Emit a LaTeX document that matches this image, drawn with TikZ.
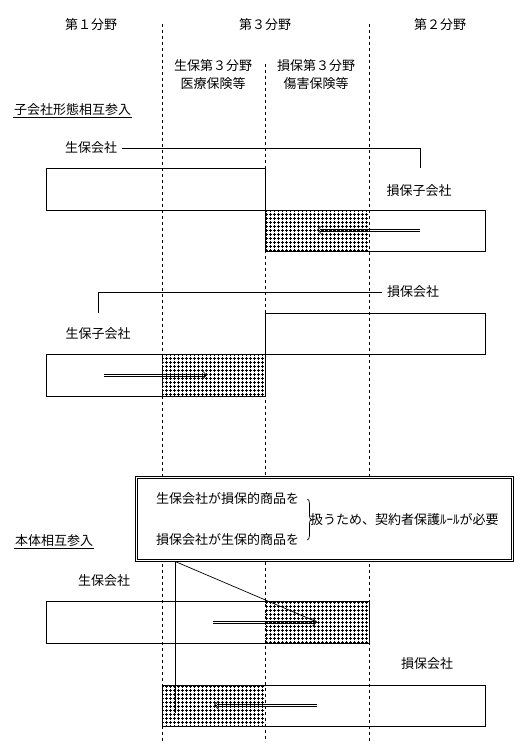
\documentclass[tikz,border=0pt]{standalone}
\usepackage{fontspec}
\usetikzlibrary{positioning, arrows.meta, decorations.pathreplacing, patterns, calc}
\newfontfamily\jpfont{Noto Sans CJK JP}
\pgfdeclarepatternformonly{plusgrid}{\pgfpoint{-0.5pt}{-0.5pt}}{\pgfpoint{4.5pt}{4.5pt}}{\pgfpoint{4pt}{4pt}}{%
  \pgfsetlinewidth{1pt}
  \pgfpathmoveto{\pgfpoint{0.5pt}{2pt}}\pgfpathlineto{\pgfpoint{3.5pt}{2pt}}
  \pgfpathmoveto{\pgfpoint{2pt}{0.5pt}}\pgfpathlineto{\pgfpoint{2pt}{3.5pt}}
  \pgfusepath{stroke}}
\tikzset{
  lbl/.style={font=\jpfont\fontsize{13}{15}\selectfont, inner sep=1pt},
  field/.style={draw, line width=0.9pt},
  guide/.style={line width=0.7pt, dash pattern=on 3pt off 3pt},
  link/.style={line width=0.7pt},
  hatch/.style={pattern=plusgrid},
  frame/.style={draw, line width=0.8pt, fill=white, minimum width=378pt, minimum height=85pt},
}
% double shaft with open head
\newcommand{\dblarrow}[2]{%
  \draw[link] ($(#1)+(0,1)$) -- ($(#2)!2.5pt!(#1)+(0,1)$);
  \draw[link] ($(#1)+(0,-1)$) -- ($(#2)!2.5pt!(#1)+(0,-1)$);
  \draw[link, -{Straight Barb[length=4pt, width=8pt]}] ($(#2)!3pt!(#1)$) -- (#2);}

\begin{document}
\begin{tikzpicture}[x=1pt, y=-1pt]
    \useasboundingbox (0,0) rectangle (529,749);
    % field borders
    \draw[guide] (162,24) -- (162,742);
    \draw[guide] (265,64) -- (265,742);
    \draw[guide] (369,24) -- (369,742);
    \node[lbl] (f1) at (91,25) {第１分野};
    \node[lbl] (f3) at (265,25) {第３分野};
    \node[lbl] (f2) at (440,25) {第２分野};
    \node[lbl] (sei3rd) at (213,66) {生保第３分野};
    \node[lbl, below=3pt of sei3rd] (iryo) {医療保険等};
    \node[lbl] (son3rd) at (316,66) {損保第３分野};
    \node[lbl, below=3pt of son3rd] (shogai) {傷害保険等};

    % subsidiary entry
    \node[lbl, anchor=west] (kogaisha) at (13,110) {子会社形態相互参入};
    \draw[link] (kogaisha.south west) -- (kogaisha.south east);
    \node[lbl] (seiA) at (91,148) {生保会社};
    \node[lbl] (sonkoA) at (419,191) {損保子会社};
    \coordinate (cA) at (420,168);
    \draw[link] ([xshift=4pt]seiA.east) -| (cA);
    \fill[hatch] (265,210) rectangle (369,251);
    \draw[field] (46,168) rectangle (265,210);
    \draw[field] (265,210) rectangle (485,251);
    \coordinate (aAs) at (420,230); \coordinate (aAe) at (317,230);
    \dblarrow{aAs}{aAe}

    \node[lbl] (sonB) at (413,292) {損保会社};
    \node[lbl] (seikoB) at (98,334) {生保子会社};
    \coordinate (cB) at (98,313);
    \draw[link] ([xshift=-4pt]sonB.west) -| (cB);
    \fill[hatch] (162,354) rectangle (265,396);
    \draw[field] (265,313) rectangle (485,354);
    \draw[field] (46,354) rectangle (265,396);
    \coordinate (aBs) at (104,375); \coordinate (aBe) at (207,375);
    \dblarrow{aBs}{aBe}

    % direct entry
    \node[frame] (rule) at (324,518.5) {};
    \draw[link] ([shift={(2.3pt,2.3pt)}]rule.south west) rectangle ([shift={(-2.3pt,-2.3pt)}]rule.north east);
    \node[lbl, anchor=west] (q1) at (155,499) {生保会社が損保的商品を};
    \node[lbl, anchor=west] (q2) at (155,540) {損保会社が生保的商品を};
    \draw[link, decorate, decoration={brace, amplitude=4pt}] ([xshift=7pt]q1.east) -- ([xshift=7pt]q2.east);
    \node[lbl, anchor=west] (need) at (309,520) {扱うため、契約者保護ﾙｰﾙが必要};
    \node[lbl, anchor=west] (hontai) at (14,541) {本体相互参入};
    \draw[link] (hontai.south west) -- (hontai.south east);
    \node[lbl] (seiC) at (104,581) {生保会社};
    \node[lbl] (sonC) at (427,664) {損保会社};
    \fill[hatch] (265,601) rectangle (369,643);
    \draw[field] (46,601) rectangle (369,643);
    \fill[hatch] (162,685) rectangle (265,726);
    \draw[field] (162,685) rectangle (485,726);
    \coordinate (aCs) at (213,622); \coordinate (aCe) at (317,622);
    \coordinate (aDs) at (317,705); \coordinate (aDe) at (214,705);
    \dblarrow{aCs}{aCe}
    \dblarrow{aDs}{aDe}
    \coordinate (vbot) at (175,713);
    \draw[link] (rule.south -| vbot) -- (vbot);
    \draw[link] (rule.south -| vbot) -- (aCe);
\end{tikzpicture}
\end{document}
